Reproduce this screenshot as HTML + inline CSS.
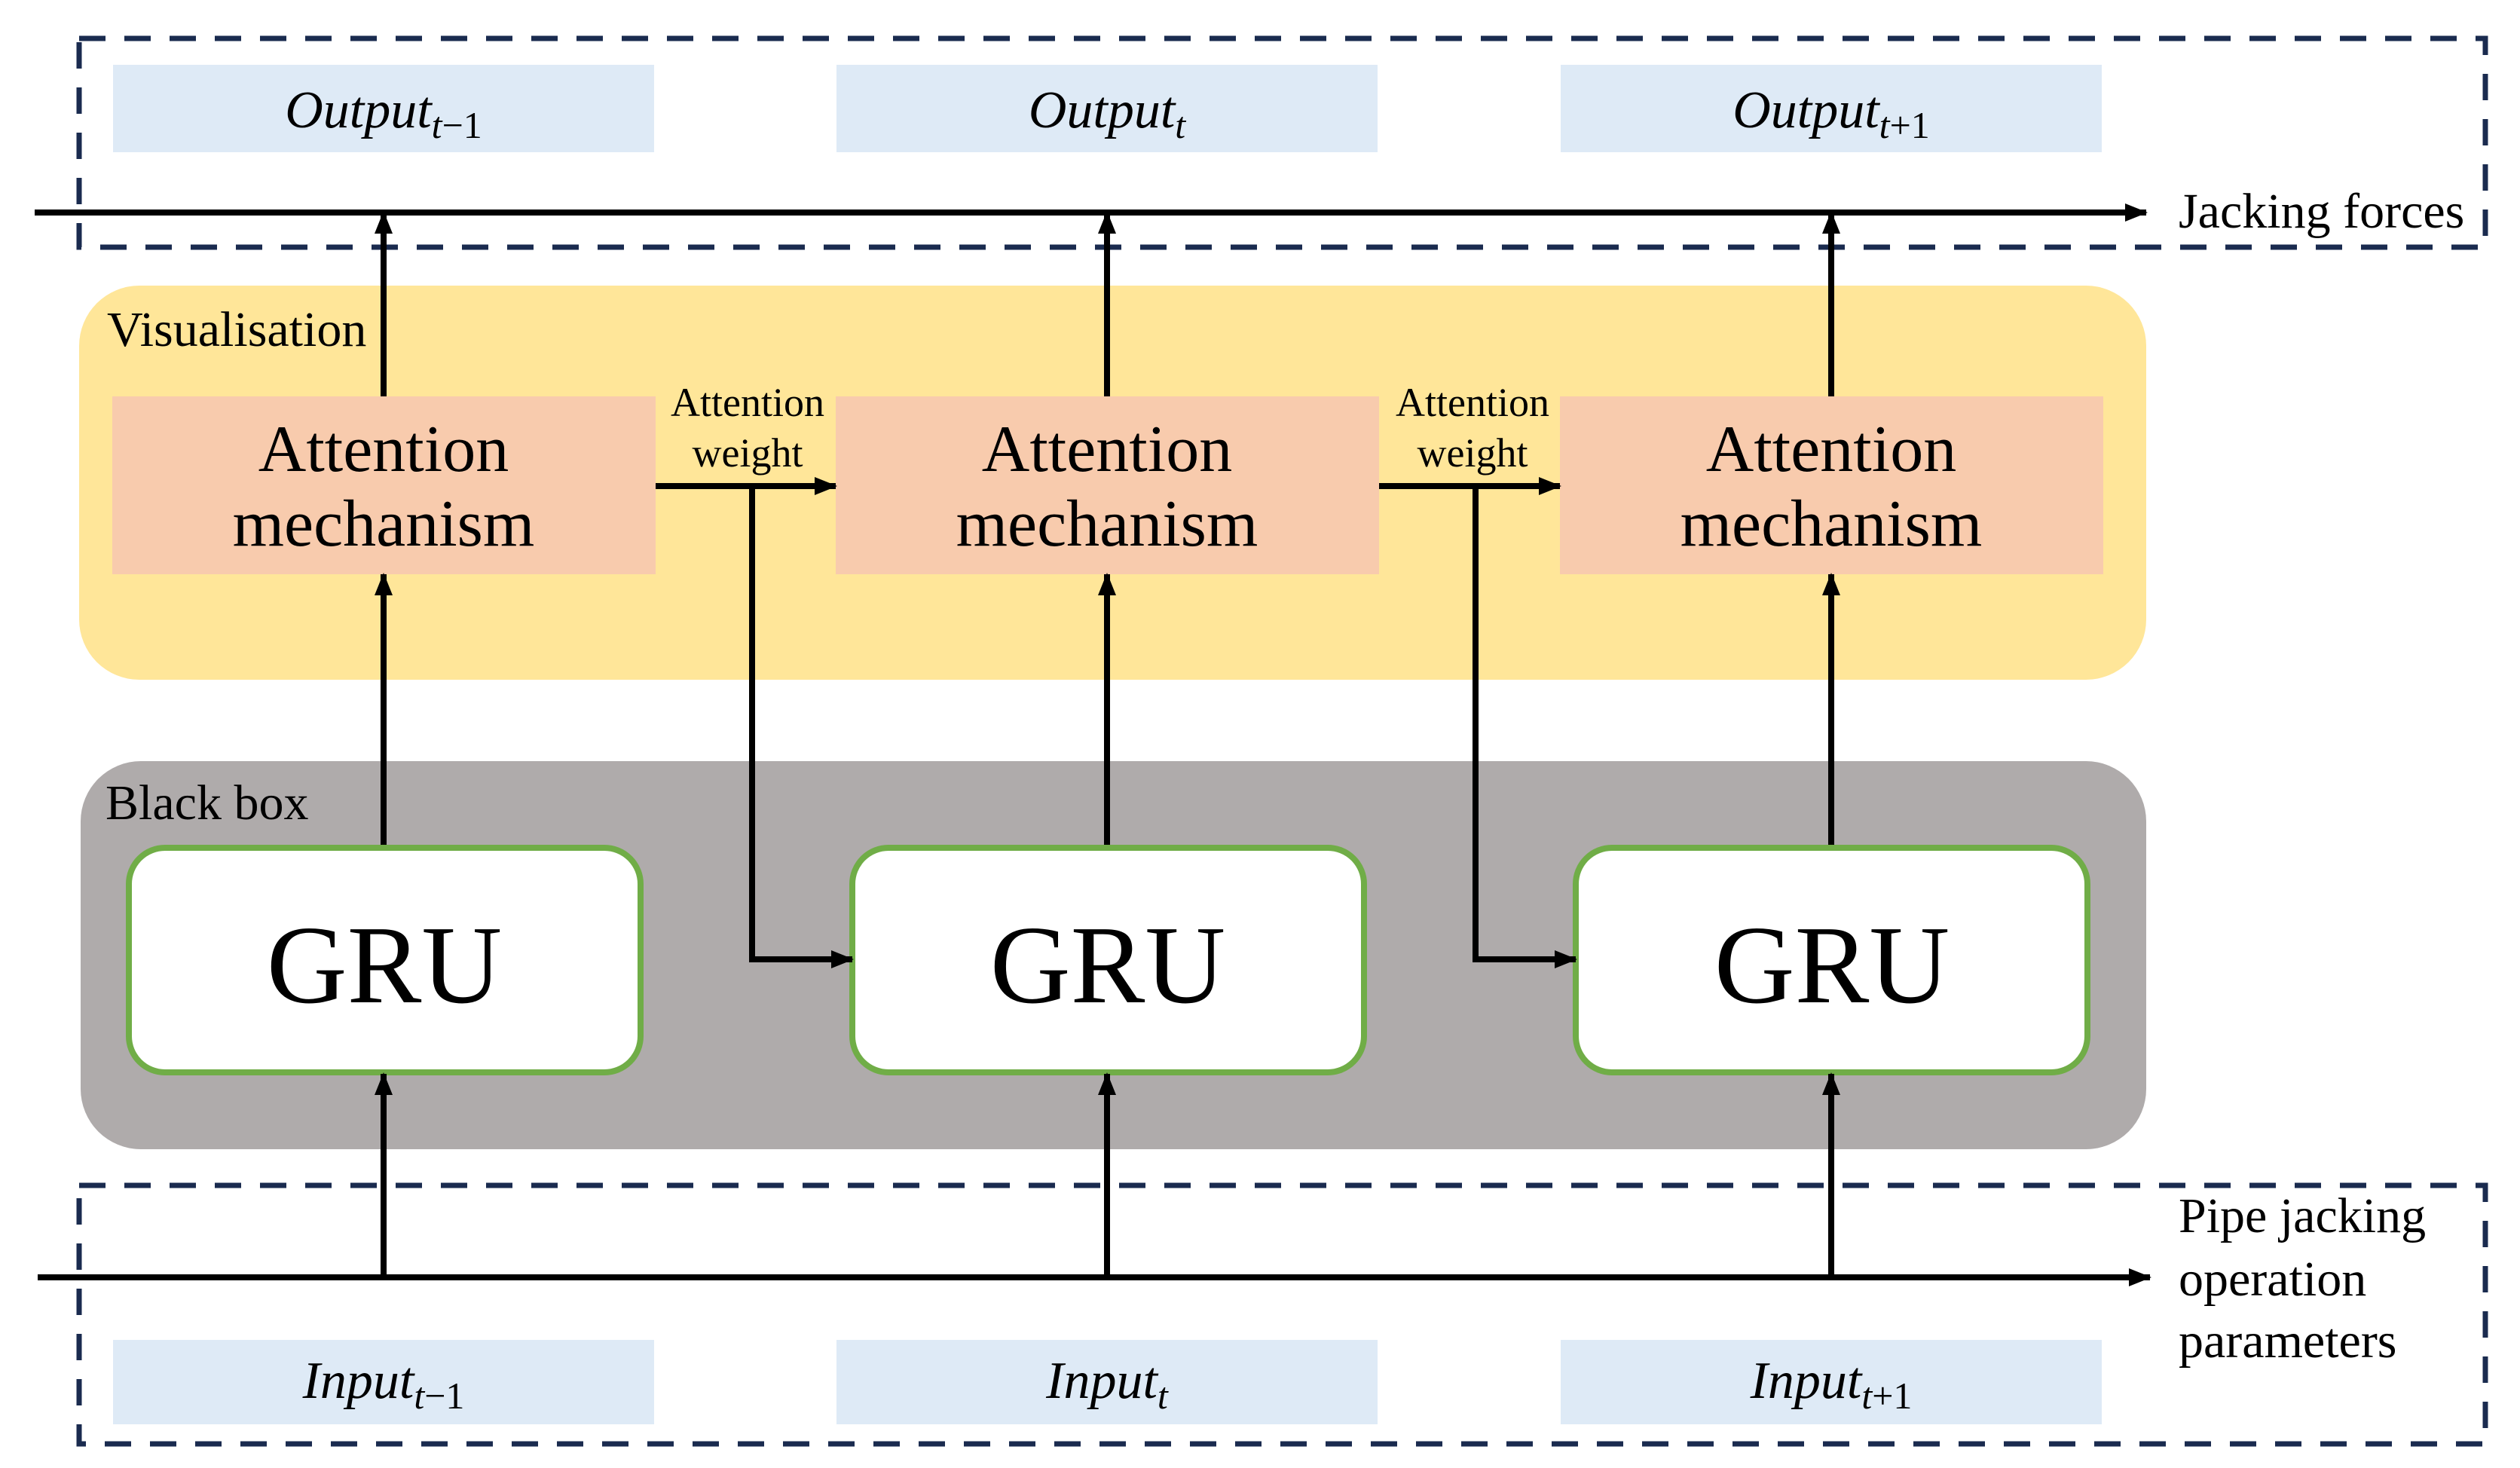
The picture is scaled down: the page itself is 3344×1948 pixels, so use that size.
<!DOCTYPE html>
<html><head><meta charset="utf-8"><style>
html,body{margin:0;padding:0;background:#fff;}
svg{display:block;}
text{font-family:"Liberation Serif",serif;fill:#000;}
.m{font-style:italic;font-size:70px;}
.s{font-size:50px;}
</style></head><body>
<svg width="3344" height="1948" viewBox="0 0 3344 1948" xmlns="http://www.w3.org/2000/svg">
<defs>
<marker id="ah" markerWidth="30" markerHeight="24" refX="28" refY="12" orient="auto" markerUnits="userSpaceOnUse">
<path d="M0,0 L30,12 L0,24 Z" fill="#000"/>
</marker>
</defs>
<rect x="105" y="51" width="3193" height="277" fill="none" stroke="#1a2b4f" stroke-width="7" stroke-dasharray="35 25"/>
<rect x="105" y="1573" width="3193" height="343" fill="none" stroke="#1a2b4f" stroke-width="7" stroke-dasharray="35 25"/>
<rect x="105" y="379" width="2743" height="523" rx="80" ry="80" fill="#FFE699"/>
<rect x="107" y="1010" width="2741" height="515" rx="80" ry="80" fill="#AFABAB"/>
<rect x="150" y="86" width="718" height="116" fill="#DEEAF6"/>
<rect x="1110" y="86" width="718" height="116" fill="#DEEAF6"/>
<rect x="2071" y="86" width="718" height="116" fill="#DEEAF6"/>
<rect x="150" y="1778" width="718" height="112" fill="#DEEAF6"/>
<rect x="1110" y="1778" width="718" height="112" fill="#DEEAF6"/>
<rect x="2071" y="1778" width="718" height="112" fill="#DEEAF6"/>
<rect x="149" y="526" width="721" height="236" fill="#F8CBAD"/>
<rect x="1109" y="526" width="721" height="236" fill="#F8CBAD"/>
<rect x="2070" y="526" width="721" height="236" fill="#F8CBAD"/>
<rect x="171" y="1125" width="679" height="298" rx="48" ry="48" fill="#fff" stroke="#70AD47" stroke-width="8"/>
<rect x="1131" y="1125" width="679" height="298" rx="48" ry="48" fill="#fff" stroke="#70AD47" stroke-width="8"/>
<rect x="2091" y="1125" width="679" height="298" rx="48" ry="48" fill="#fff" stroke="#70AD47" stroke-width="8"/>
<line x1="46" y1="282" x2="2848" y2="282" stroke="#000" stroke-width="8" marker-end="url(#ah)"/>
<line x1="50" y1="1695" x2="2853" y2="1695" stroke="#000" stroke-width="8" marker-end="url(#ah)"/>
<g stroke="#000" stroke-width="8" marker-end="url(#ah)">
<line x1="509" y1="526" x2="509" y2="282"/>
<line x1="1469" y1="526" x2="1469" y2="282"/>
<line x1="2430" y1="526" x2="2430" y2="282"/>
<line x1="509" y1="1121" x2="509" y2="762"/>
<line x1="1469" y1="1121" x2="1469" y2="762"/>
<line x1="2430" y1="1121" x2="2430" y2="762"/>
<line x1="509" y1="1695" x2="509" y2="1425"/>
<line x1="1469" y1="1695" x2="1469" y2="1425"/>
<line x1="2430" y1="1695" x2="2430" y2="1425"/>
<line x1="870" y1="645" x2="1109" y2="645"/>
<line x1="1830" y1="645" x2="2070" y2="645"/>
</g>
<g stroke="#000" stroke-width="8" fill="none" marker-end="url(#ah)">
<polyline points="998,645 998,1273 1131,1273"/>
<polyline points="1958,645 1958,1273 2091,1273"/>
</g>
<text x="142" y="459" font-size="66">Visualisation</text>
<text x="140" y="1087" font-size="66">Black box</text>
<text x="2891" y="302" font-size="66">Jacking forces</text>
<text x="2891" y="1635" font-size="66">Pipe jacking</text>
<text x="2891" y="1719" font-size="66">operation</text>
<text x="2891" y="1801" font-size="66">parameters</text>
<g font-size="54" text-anchor="middle">
<text x="992" y="552">Attention</text><text x="992" y="619">weight</text>
<text x="1954" y="552">Attention</text><text x="1954" y="619">weight</text>
</g>
<g font-size="88" text-anchor="middle">
<text x="509" y="625">Attention</text><text x="509" y="724">mechanism</text>
<text x="1469" y="625">Attention</text><text x="1469" y="724">mechanism</text>
<text x="2430" y="625">Attention</text><text x="2430" y="724">mechanism</text>
</g>
<g font-size="148" text-anchor="middle">
<text x="510" y="1330">GRU</text>
<text x="1470" y="1330">GRU</text>
<text x="2431" y="1330">GRU</text>
</g>
<g text-anchor="middle">
<text x="509" y="169"><tspan class="m">Output</tspan><tspan class="s" dy="14" font-style="italic">t</tspan><tspan class="s" dy="0">−1</tspan></text>
<text x="1469" y="169"><tspan class="m">Output</tspan><tspan class="s" dy="14" font-style="italic">t</tspan></text>
<text x="2430" y="169"><tspan class="m">Output</tspan><tspan class="s" dy="14" font-style="italic">t</tspan><tspan class="s" dy="0">+1</tspan></text>
<text x="509" y="1855"><tspan class="m">Input</tspan><tspan class="s" dy="14" font-style="italic">t</tspan><tspan class="s" dy="0">−1</tspan></text>
<text x="1469" y="1855"><tspan class="m">Input</tspan><tspan class="s" dy="14" font-style="italic">t</tspan></text>
<text x="2430" y="1855"><tspan class="m">Input</tspan><tspan class="s" dy="14" font-style="italic">t</tspan><tspan class="s" dy="0">+1</tspan></text>
</g>
</svg>
</body></html>
